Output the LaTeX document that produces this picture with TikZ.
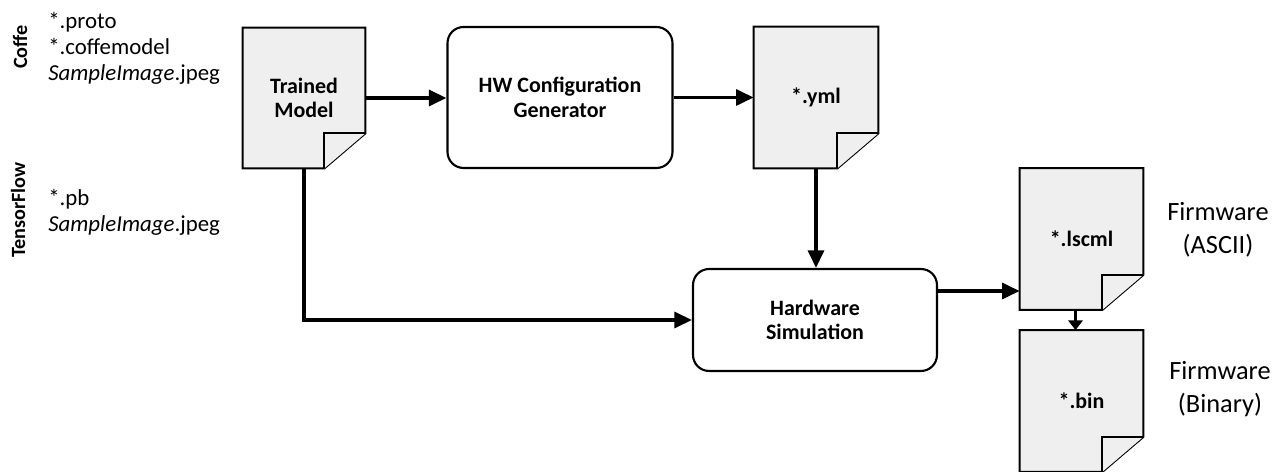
\documentclass[tikz,border=0pt]{standalone}
\usepackage{fontspec}
\setmainfont{Carlito}
\usepackage{tikz}
\usetikzlibrary{arrows.meta,backgrounds,calc}
\definecolor{docgray}{HTML}{EFEFEF}
\tikzset{
  docnode/.style={minimum width=2.46cm, minimum height=2.82cm, inner sep=0pt, align=center, font=\fontsize{12.5}{14}\selectfont\bfseries},
  procnode/.style={draw, line width=1.2pt, rounded corners=0.32cm, fill=white, inner sep=0pt, align=center, font=\fontsize{12.5}{14}\selectfont\bfseries},
  docline/.style={line width=1.2pt, fill=docgray},
  flow/.style={line width=2pt, -{Triangle[length=10pt,width=9pt]}},
  smallflow/.style={line width=2pt, -{Triangle[length=5.5pt,width=8pt]}},
  filelist/.style={anchor=north west, align=left, inner sep=0pt, font=\fontsize{13}{14.7}\selectfont},
  framework/.style={rotate=90, inner sep=0pt, font=\fontsize{11.5}{13}\selectfont\bfseries},
  fwlabel/.style={align=center, inner sep=0pt, font=\fontsize{15}{18.7}\selectfont}
}

\begin{document}
\begin{tikzpicture}[x=0.02cm, y=-0.02cm]
  \useasboundingbox (0,0) rectangle (1286,472);

  \node[framework] (caffe) at (20,47) {Coffe};
  \node[framework] (tensorflow) at (18,210) {TensorFlow};
  \node[filelist] (caffefiles) at (48,12) {*.proto\\*.coffemodel\\\textit{SampleImage}.jpeg};
  \node[filelist] (tffiles) at (48,189) {*.pb\\\textit{SampleImage}.jpeg};

  \node[docnode, minimum width=2.44cm, minimum height=2.8cm] (trained) at (304,98) {Trained\\Model};
  \node[procnode, minimum width=4.5cm, minimum height=2.82cm] (gen) at (560,97.5) {HW Configuration\\Generator};
  \node[docnode, minimum width=2.48cm] (yml) at (816,97.5) {*.yml};
  \node[procnode, minimum width=4.88cm, minimum height=2.04cm] (sim) at (815,320) {Hardware\\Simulation};
  \node[docnode] (lscml) at (1081.5,239) {*.lscml};
  \node[docnode] (bin) at (1081.5,401) {*.bin};

  \node[fwlabel] (fwascii) at (1218,230) {Firmware\\(ASCII)};
  \node[fwlabel] (fwbinary) at (1220,389) {Firmware\\(Binary)};

  \begin{scope}[on background layer]
    \foreach \d in {trained,yml,lscml,bin}{
      \draw[docline] (\d.north west) -- (\d.north east) -- ([yshift=0.7cm]\d.south east)
        -- ([xshift=-0.82cm]\d.south east) -- (\d.south west) -- cycle;
      \draw[docline] ([xshift=-0.82cm]\d.south east) -- ([xshift=-0.82cm,yshift=0.7cm]\d.south east)
        -- ([yshift=0.7cm]\d.south east);
    }
  \end{scope}

  \draw[flow] (trained.east) -- (trained.east -| gen.west);
  \draw[flow] (gen.east) -- (gen.east -| yml.west);
  \draw[flow] (yml.south) -- (yml.south |- sim.north);
  \draw[flow] (trained.south) |- (sim.west);
  \draw[flow] ([yshift=0.58cm]sim.east) -- ([yshift=0.58cm]sim.east -| lscml.west);
  \draw[smallflow] ([xshift=-0.12cm]lscml.south) -- ([xshift=-0.12cm]bin.north);
\end{tikzpicture}
\end{document}
